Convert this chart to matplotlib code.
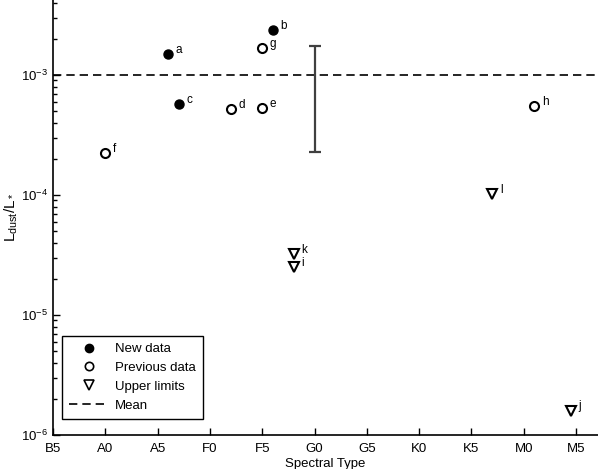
import numpy as np
import matplotlib
matplotlib.use("Agg")
import matplotlib.pyplot as plt
from matplotlib.lines import Line2D

plt.rcParams['font.family'] = ['Liberation Sans', 'DejaVu Sans']
plt.rcParams['mathtext.fontset'] = 'custom'
plt.rcParams['mathtext.rm'] = 'Liberation Sans'
plt.rcParams['mathtext.it'] = 'Liberation Sans'

# spectral type axis: B5=0, A0=5, ... M5=50
tick_labels = ["B5", "A0", "A5", "F0", "F5", "G0", "G5", "K0", "K5", "M0", "M5"]

# new data (filled)
new_x = [11, 21, 12]
new_y = [1.5e-3, 2.35e-3, 5.7e-4]
new_lab = ["a", "b", "c"]

# previous data (open)
prev_x = [17, 20, 5, 20, 46]
prev_y = [5.2e-4, 5.3e-4, 2.25e-4, 1.68e-3, 5.5e-4]
prev_lab = ["d", "e", "f", "g", "h"]

# upper limits
lim_x = [23, 49.5, 23, 42]
lim_y = [2.5e-5, 1.6e-6, 3.2e-5, 1.02e-4]
lim_lab = ["i", "j", "k", "l"]

mean_val = 1.0e-3
err_x = 25
err_lo = 2.27e-4
err_hi = 1.75e-3

fig = plt.figure(figsize=(5.98, 4.69), dpi=100)
ax = fig.add_axes([53/598, 34/469, 545/598, 435/469])

ax.set_yscale("log")
ax.set_xlim(0, 545/10.46)
ax.set_ylim(1e-6, 10**(-3 + 75/120.0))

ax.axhline(mean_val, color="k", lw=1.2, ls=(0, (5, 3)))
ax.errorbar([err_x], [mean_val], yerr=[[mean_val - err_lo], [err_hi - mean_val]],
            fmt="none", ecolor="#404040", elinewidth=1.6, capsize=4.5, capthick=1.6)

ax.plot(new_x, new_y, "o", color="k", ms=6.5, ls="none")
ax.plot(prev_x, prev_y, "o", mfc="white", mec="k", mew=1.5, ms=6.5, ls="none")
ax.plot(lim_x, lim_y, "v", mfc="white", mec="k", mew=1.5, ms=7.5, ls="none")

for xs, ys, labs in [(new_x, new_y, new_lab), (prev_x, prev_y, prev_lab), (lim_x, lim_y, lim_lab)]:
	for x, y, s in zip(xs, ys, labs):
		ax.annotate(s, (x, y), xytext=(5.5, 3), textcoords="offset points",
		            ha="left", va="center", fontsize=8.5)

ax.set_xticks(np.arange(0, 51, 5))
ax.set_xticklabels(tick_labels)
ax.tick_params(which="both", direction="in", labelsize=9.5)
ax.tick_params(which="major", length=5, width=1)
ax.tick_params(which="minor", length=3, width=1)
ax.tick_params(axis="x", pad=6)
ax.spines["top"].set_visible(False)
ax.spines["right"].set_visible(False)
for s in ["left", "bottom"]:
	ax.spines[s].set_linewidth(1.2)

ax.set_xlabel("Spectral Type", fontsize=9.5, labelpad=2)
ax.set_ylabel(r"L$_{\rm dust}$/L$_*$", fontsize=11, labelpad=1)

handles = [
	Line2D([], [], marker="o", color="k", ls="none", ms=6),
	Line2D([], [], marker="o", mfc="white", mec="k", mew=1.2, ls="none", ms=6),
	Line2D([], [], marker="v", mfc="white", mec="k", mew=1.2, ls="none", ms=6.5),
	Line2D([], [], color="k", lw=1.2, ls=(0, (5, 3))),
]
leg = ax.legend(handles, ["New data", "Previous data", "Upper limits", "Mean"],
                loc="lower left", bbox_to_anchor=(0.0165, 0.037), borderaxespad=0,
                fancybox=False, edgecolor="k", framealpha=1, fontsize=9.5,
                handlelength=3, labelspacing=0.5, borderpad=0.55, handletextpad=0.45)
leg.get_frame().set_linewidth(1.0)

fig.savefig("out.png", dpi=100)
